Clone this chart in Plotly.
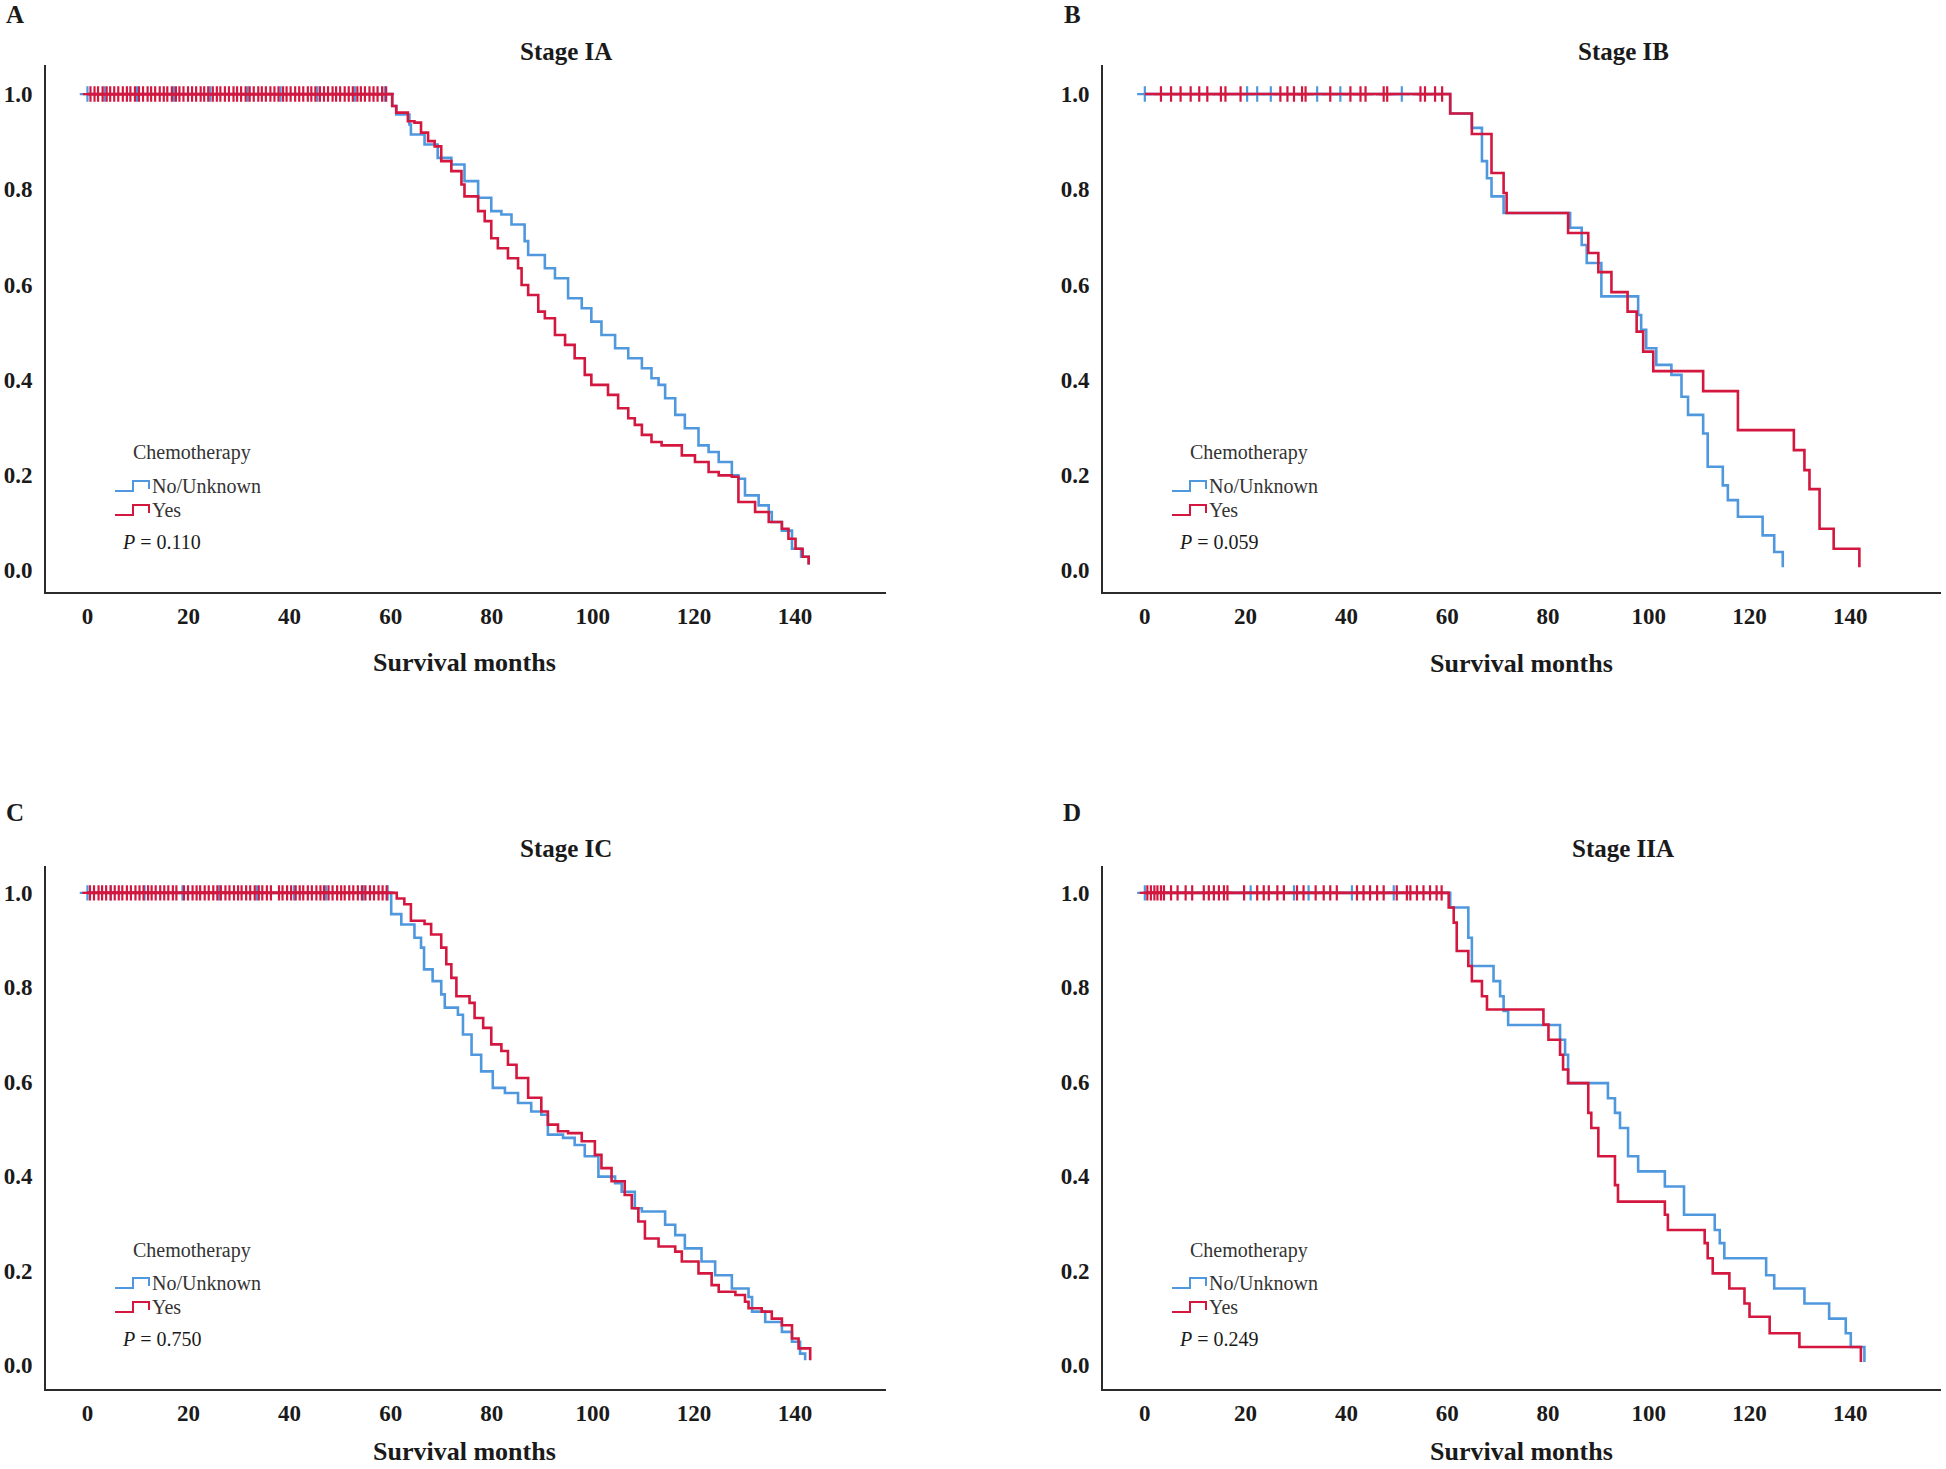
import plotly.graph_objects as go

W, H = 1946, 1469
SERIF = "Liberation Serif, Times New Roman, serif"
BLUE = "#4f98de"
RED = "#d3173f"

# ---------------- data ----------------
x_ticks = [0, 20, 40, 60, 80, 100, 120, 140]
y_ticks = [0.0, 0.2, 0.4, 0.6, 0.8, 1.0]
y_tick_text = ["0.0", "0.2", "0.4", "0.6", "0.8", "1.0"]

# Stage IA
tA_no = [0, 60.3, 61.1, 63.7, 64.0, 66.7, 69.3, 72.0, 74.6, 77.3, 79.9, 81.9, 83.9, 86.5, 87.2, 90.5, 92.5,
         95.1, 97.8, 99.7, 101.7, 104.4, 107.0, 109.7, 111.6, 113.0, 114.3, 116.3, 118.2, 120.9, 122.9,
         124.9, 127.5, 128.8, 130.1, 132.8, 134.8, 135.4, 137.4, 139.4, 141.2, 142.7]
sA_no = [1.0, 0.975, 0.957, 0.936, 0.915, 0.894, 0.866, 0.852, 0.817, 0.782, 0.754, 0.747, 0.726, 0.691, 0.662,
         0.634, 0.613, 0.571, 0.550, 0.522, 0.494, 0.466, 0.445, 0.424, 0.403, 0.389, 0.361, 0.326, 0.298,
         0.262, 0.248, 0.227, 0.199, 0.192, 0.157, 0.136, 0.122, 0.101, 0.083, 0.045, 0.028, 0.012]
tA_yes = [0, 60.3, 61.1, 63.4, 64.7, 66.0, 67.4, 68.7, 70.0, 72.0, 74.0, 74.6, 77.3, 78.6, 79.9, 81.2, 83.2,
          85.2, 85.9, 87.2, 89.2, 90.5, 92.5, 94.5, 96.4, 98.4, 99.7, 103.0, 105.0, 107.0, 108.3, 109.7, 111.6,
          113.6, 117.6, 120.2, 122.9, 124.9, 127.5, 128.8, 132.1, 134.8, 137.4, 138.7, 140.1, 141.5, 142.7]
sA_yes = [1.0, 0.975, 0.961, 0.943, 0.940, 0.919, 0.901, 0.890, 0.859, 0.838, 0.810, 0.785, 0.754, 0.733, 0.697,
          0.676, 0.655, 0.634, 0.599, 0.578, 0.543, 0.529, 0.494, 0.473, 0.445, 0.410, 0.389, 0.368, 0.340,
          0.319, 0.305, 0.284, 0.269, 0.262, 0.241, 0.227, 0.206, 0.199, 0.196, 0.143, 0.122, 0.101, 0.087,
          0.066, 0.045, 0.028, 0.012]
cA_no = [0.0, 3.4, 9.8, 17.1, 24.3, 31.7, 38.2, 45.5, 52.9, 58.8]
cA_yes = [0.6, 1.4, 2.1, 3.0, 3.8, 4.5, 5.3, 6.1, 7.0, 7.8, 8.5, 9.4, 10.2, 11.0, 11.9, 12.6, 13.4, 14.3, 15.1,
          15.8, 16.7, 17.5, 18.2, 19.0, 19.9, 20.7, 21.5, 22.4, 23.1, 23.9, 24.8, 25.6, 26.3, 27.2, 28.0, 28.9,
          29.6, 30.4, 31.3, 32.1, 32.9, 33.8, 34.5, 35.3, 36.2, 37.0, 37.8, 38.7, 39.4, 40.2, 41.1, 41.9, 42.7,
          43.6, 44.3, 45.1, 46.0, 46.8, 47.6, 48.5, 49.2, 50.0, 50.9, 51.7, 52.5, 53.4, 54.1, 54.9, 55.8, 56.6,
          57.4, 58.3, 59.1]

# Stage IB
tB_no = [0, 60.6, 64.9, 66.9, 67.9, 68.8, 71.2, 84.4, 86.7, 87.7, 90.6, 97.9, 98.5, 99.5, 101.5, 104.5, 106.5,
         107.8, 110.8, 111.7, 114.7, 115.7, 117.7, 122.6, 124.9, 126.6]
sB_no = [1.0, 0.959, 0.929, 0.859, 0.823, 0.785, 0.750, 0.719, 0.683, 0.645, 0.575, 0.536, 0.505, 0.466, 0.431,
         0.410, 0.364, 0.326, 0.287, 0.217, 0.178, 0.147, 0.112, 0.073, 0.038, 0.006]
tB_yes = [0, 60.6, 64.9, 68.8, 71.2, 71.8, 84.0, 88.0, 90.0, 92.6, 95.8, 97.6, 98.9, 100.9, 110.8, 117.7, 128.8,
          130.9, 131.9, 133.9, 136.7, 141.8]
sB_yes = [1.0, 0.959, 0.916, 0.834, 0.792, 0.750, 0.708, 0.666, 0.626, 0.584, 0.543, 0.501, 0.459, 0.418, 0.376,
          0.294, 0.252, 0.210, 0.170, 0.087, 0.045, 0.006]
cB_no = [0.0, 20.3, 22.3, 25.0, 34.2, 38.8, 51.0]
cB_yes = [3.2, 5.2, 7.1, 9.1, 10.8, 12.4, 15.1, 16.0, 19.0, 26.9, 28.3, 29.6, 31.2, 31.9, 36.8, 40.8, 42.8, 43.8,
          47.4, 48.1, 54.7, 55.6, 57.6, 59.0]

# Stage IC
tC_no = [0, 60.1, 62.1, 64.7, 66.0, 66.6, 68.3, 70.0, 70.7, 73.3, 74.3, 76.0, 77.9, 80.2, 82.6, 85.2, 87.8, 89.8,
         91.1, 94.1, 96.4, 98.4, 101.1, 104.4, 105.7, 108.3, 109.7, 114.3, 116.3, 118.2, 121.5, 124.2, 127.5,
         130.8, 131.5, 134.1, 137.4, 139.4, 141.0, 142.0]
sC_no = [1.0, 0.955, 0.933, 0.905, 0.884, 0.838, 0.813, 0.785, 0.757, 0.742, 0.700, 0.657, 0.622, 0.587, 0.576,
         0.555, 0.537, 0.530, 0.488, 0.481, 0.466, 0.442, 0.399, 0.385, 0.367, 0.332, 0.325, 0.297, 0.275, 0.247,
         0.219, 0.190, 0.162, 0.144, 0.113, 0.091, 0.070, 0.049, 0.024, 0.010]
tC_yes = [0, 61.2, 62.7, 64.0, 66.7, 68.0, 70.0, 71.0, 72.0, 73.0, 75.6, 76.6, 78.3, 79.9, 81.9, 83.2, 84.9, 87.2,
          89.8, 91.1, 93.1, 95.1, 97.8, 100.4, 101.7, 103.7, 106.3, 107.7, 109.0, 110.3, 113.0, 116.3, 117.6,
          120.9, 123.5, 124.9, 128.2, 130.1, 130.8, 133.4, 135.4, 137.4, 139.4, 140.7, 143.0]
sC_yes = [1.0, 0.988, 0.976, 0.941, 0.934, 0.912, 0.884, 0.849, 0.820, 0.781, 0.767, 0.735, 0.714, 0.679, 0.665,
          0.636, 0.608, 0.566, 0.537, 0.509, 0.495, 0.491, 0.474, 0.445, 0.417, 0.389, 0.360, 0.332, 0.304, 0.268,
          0.251, 0.240, 0.219, 0.194, 0.169, 0.155, 0.148, 0.134, 0.120, 0.113, 0.098, 0.084, 0.056, 0.035, 0.010]
cC_no = [0.0, 4.6, 11.3, 18.8, 26.1, 33.5, 40.9, 47.2, 54.6, 59.4]
cC_yes = [0.5, 1.3, 2.2, 2.9, 3.7, 4.6, 5.4, 6.2, 6.9, 7.8, 8.6, 9.5, 10.3, 11.1, 12.0, 12.7, 13.5, 14.4, 15.2,
          16.0, 16.9, 17.6, 19.1, 19.9, 20.8, 21.6, 22.3, 23.2, 24.0, 24.9, 25.7, 26.4, 27.3, 28.1, 29.0, 29.8,
          30.5, 31.4, 32.2, 33.1, 33.9, 34.6, 35.5, 36.3, 37.9, 38.6, 39.5, 40.3, 41.2, 42.0, 42.7, 43.6, 44.4,
          45.3, 46.1, 46.8, 47.7, 48.5, 49.4, 50.2, 50.9, 51.8, 52.6, 53.5, 54.3, 55.0, 55.9, 56.7, 57.6, 58.4,
          59.2]

# Stage IIA
tD_no = [0, 60.6, 64.2, 64.9, 69.2, 70.5, 71.2, 72.1, 82.4, 83.4, 84.0, 91.9, 93.3, 94.3, 95.9, 97.9, 103.2,
         107.0, 113.1, 114.1, 115.0, 123.3, 124.9, 130.9, 135.8, 139.1, 140.1, 142.8]
sD_no = [1.0, 0.969, 0.905, 0.845, 0.813, 0.781, 0.750, 0.720, 0.689, 0.657, 0.597, 0.565, 0.534, 0.502, 0.442,
         0.410, 0.378, 0.318, 0.286, 0.258, 0.226, 0.190, 0.162, 0.130, 0.098, 0.067, 0.038, 0.006]
tD_yes = [0, 60.3, 61.3, 61.9, 64.2, 64.9, 66.9, 67.9, 79.1, 80.1, 82.4, 83.0, 84.0, 88.0, 88.6, 90.0, 93.3, 93.9,
          103.2, 103.8, 111.1, 111.7, 112.7, 116.0, 119.0, 120.0, 124.0, 129.9, 142.1]
sD_yes = [1.0, 0.969, 0.937, 0.877, 0.845, 0.813, 0.781, 0.753, 0.721, 0.689, 0.657, 0.626, 0.597, 0.534, 0.502,
          0.442, 0.381, 0.346, 0.318, 0.286, 0.258, 0.226, 0.194, 0.162, 0.130, 0.102, 0.067, 0.038, 0.006]
cD_no = [0.0, 21.0, 29.6, 32.5, 41.1, 49.4]
cD_yes = [0.5, 1.2, 1.9, 2.5, 3.2, 3.8, 5.2, 6.5, 8.1, 9.4, 11.7, 12.7, 13.7, 14.7, 15.7, 16.4, 19.7, 22.3, 23.6,
          24.6, 26.3, 27.6, 30.2, 31.5, 33.9, 35.5, 36.8, 38.1, 42.1, 43.4, 44.7, 46.1, 47.4, 50.0, 52.0, 52.7,
          54.0, 55.3, 56.6, 57.9, 58.9]

panels = [
    dict(letter="A", title="Stage IA", p="0.110", x0=46, x1=886, yt=65, yb=592, xt_dy=70,
         xr=[-8.2, 158.0], yr=[-0.046, 1.061],
         no=(tA_no, sA_no, cA_no), yes=(tA_yes, sA_yes, cA_yes)),
    dict(letter="B", title="Stage IB", p="0.059", x0=1103, x1=1941, yt=65, yb=592, xt_dy=71,
         xr=[-8.3, 158.0], yr=[-0.046, 1.061],
         no=(tB_no, sB_no, cB_no), yes=(tB_yes, sB_yes, cB_yes)),
    dict(letter="C", title="Stage IC", p="0.750", x0=46, x1=886, yt=866, yb=1389, xt_dy=62,
         xr=[-8.2, 158.0], yr=[-0.051, 1.057],
         no=(tC_no, sC_no, cC_no), yes=(tC_yes, sC_yes, cC_yes)),
    dict(letter="D", title="Stage IIA", p="0.249", x0=1103, x1=1941, yt=866, yb=1389, xt_dy=62,
         xr=[-8.3, 158.0], yr=[-0.051, 1.057],
         no=(tD_no, sD_no, cD_no), yes=(tD_yes, sD_yes, cD_yes)),
]


def fx(x):
    return x / W


def fy(y):
    return 1 - y / H


fig = go.Figure()
layout = dict(width=W, height=H, margin=dict(l=0, r=0, t=0, b=0),
              paper_bgcolor="white", plot_bgcolor="white", showlegend=False)
annotations = []
shapes = []

for i, pn in enumerate(panels):
    n = i + 1
    xs = "x" if n == 1 else f"x{n}"
    ys = "y" if n == 1 else f"y{n}"
    xk = "xaxis" if n == 1 else f"xaxis{n}"
    yk = "yaxis" if n == 1 else f"yaxis{n}"
    layout[xk] = dict(domain=[fx(pn["x0"]), fx(pn["x1"])], range=pn["xr"], anchor=ys,
                      showline=True, linecolor="#2b2b2b", linewidth=2, ticks="",
                      tickvals=x_ticks, showgrid=False, zeroline=False,
                      tickfont=dict(family=SERIF, size=23, color="#1a1a1a", weight="bold"),
                      ticklabelstandoff=2)
    layout[yk] = dict(domain=[fy(pn["yb"]), fy(pn["yt"])], range=pn["yr"], anchor=xs,
                      showline=True, linecolor="#2b2b2b", linewidth=2, ticks="",
                      tickvals=y_ticks, ticktext=y_tick_text, showgrid=False, zeroline=False,
                      tickfont=dict(family=SERIF, size=23, color="#1a1a1a", weight="bold"),
                      ticklabelstandoff=7)

    for key, col in (("no", BLUE), ("yes", RED)):
        t, s, c = pn[key]
        fig.add_trace(go.Scatter(x=t, y=s, mode="lines", line=dict(color=col, width=2.6, shape="hv"),
                                 xaxis=xs, yaxis=ys, hoverinfo="skip"))
        fig.add_trace(go.Scatter(x=c, y=[1.0] * len(c), mode="markers",
                                 marker=dict(symbol="cross-thin", size=11, line=dict(color=col, width=2.2)),
                                 xaxis=xs, yaxis=ys, hoverinfo="skip"))

    x0, yb = pn["x0"], pn["yb"]
    annotations.append(dict(text=f"<b>{pn['letter']}</b>", x=fx(x0 - 31), y=fy(yb - 577), xref="paper",
                            yref="paper", showarrow=False, xanchor="center", yanchor="middle",
                            font=dict(family=SERIF, size=25, color="#1a1a1a")))
    annotations.append(dict(text=f"<b>{pn['title']}</b>", x=fx(x0 + 520), y=fy(yb - 541), xref="paper",
                            yref="paper", showarrow=False, xanchor="center", yanchor="middle",
                            font=dict(family=SERIF, size=25, color="#1a1a1a")))
    annotations.append(dict(text="<b>Survival months</b>", x=fx(x0 + 418), y=fy(yb + pn["xt_dy"]),
                            xref="paper", yref="paper", showarrow=False, xanchor="center",
                            yanchor="middle", font=dict(family=SERIF, size=26, color="#1a1a1a")))
    # legend block
    annotations.append(dict(text="Chemotherapy", x=fx(x0 + 146), y=fy(yb - 139), xref="paper", yref="paper",
                            showarrow=False, xanchor="center", yanchor="middle",
                            font=dict(family=SERIF, size=20, color="#333333")))
    annotations.append(dict(text="No/Unknown", x=fx(x0 + 104), y=fy(yb - 106), xref="paper", yref="paper",
                            showarrow=False, xanchor="left", yanchor="middle",
                            font=dict(family=SERIF, size=20, color="#333333")))
    annotations.append(dict(text="Yes", x=fx(x0 + 104), y=fy(yb - 82), xref="paper", yref="paper",
                            showarrow=False, xanchor="left", yanchor="middle",
                            font=dict(family=SERIF, size=20, color="#333333")))
    annotations.append(dict(text=f"<i>P</i> = {pn['p']}", x=fx(x0 + 74), y=fy(yb - 50), xref="paper",
                            yref="paper", showarrow=False, xanchor="left", yanchor="middle",
                            font=dict(family=SERIF, size=20, color="#1a1a1a")))
    for dy, col in ((-101, BLUE), (-77, RED)):
        yl, yh = yb + dy, yb + dy - 10
        path = (f"M {fx(x0 + 69)} {fy(yl)} L {fx(x0 + 87)} {fy(yl)} L {fx(x0 + 87)} {fy(yh)} "
                f"L {fx(x0 + 103)} {fy(yh)} L {fx(x0 + 103)} {fy(yl - 2)}")
        shapes.append(dict(type="path", path=path, xref="paper", yref="paper",
                           line=dict(color=col, width=2)))

layout["annotations"] = annotations
layout["shapes"] = shapes
fig.update_layout(**layout)

fig.write_html("out.html", config={"displayModeBar": False},
               post_script="document.body.style.margin='0';document.body.style.overflow='hidden';")
